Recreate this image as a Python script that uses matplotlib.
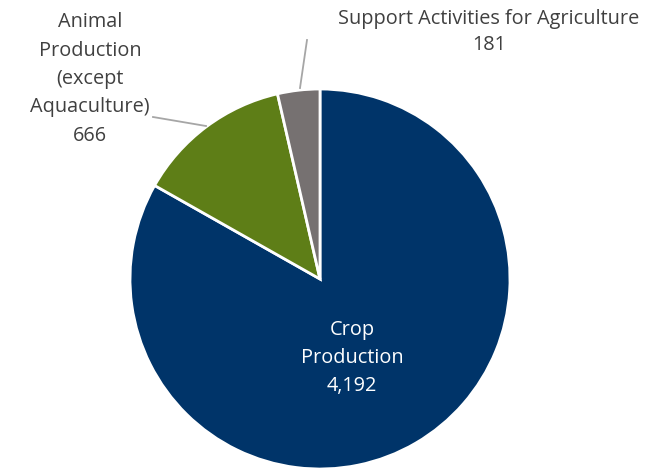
import matplotlib
matplotlib.use("Agg")
import matplotlib.pyplot as plt

# establishments by industry subsector
categories = ["Crop\nProduction", "Animal\nProduction\n(except\nAquaculture)",
              "Support Activities for Agriculture"]
counts = [4192, 666, 181]
colors = ["#003469", "#5E7E17", "#767171"]

W, H = 659, 469

plt.rcParams["font.family"] = ["Open Sans", "DejaVu Sans"]

fig = plt.figure(figsize=(W / 100, H / 100), dpi=100)
ax = fig.add_axes([0, 0, 1, 1])

cx, cy, r = 320, H - 279, 190
ax.pie(counts, colors=colors, startangle=90, counterclock=False,
       center=(cx, cy), radius=r, frame=True,
       wedgeprops=dict(edgecolor="white", linewidth=2))
ax.set_xlim(0, W)
ax.set_ylim(0, H)
ax.set_aspect("equal")
ax.axis("off")

def fmt(v):
    return f"{v:,}"

fs = 14.3

# inside label for the large slice
ax.text(352, H - 358, f"{categories[0]}\n{fmt(counts[0])}", ha="center", va="center",
        color="white", fontsize=fs, linespacing=1.52)

# outside labels with leader lines
ax.text(90, H - 79, f"{categories[1]}\n{fmt(counts[1])}", ha="center", va="center",
        color="#404040", fontsize=fs, linespacing=1.56)
ax.plot([153, 206], [H - 117, H - 126], color="#A6A6A6", lw=1.3)

ax.text(489, H - 32, f"{categories[2]}\n{fmt(counts[2])}", ha="center", va="center",
        color="#404040", fontsize=fs, linespacing=1.45)
ax.plot([307, 300], [H - 40, H - 88], color="#A6A6A6", lw=1.3)

fig.savefig("out.png", dpi=100)
